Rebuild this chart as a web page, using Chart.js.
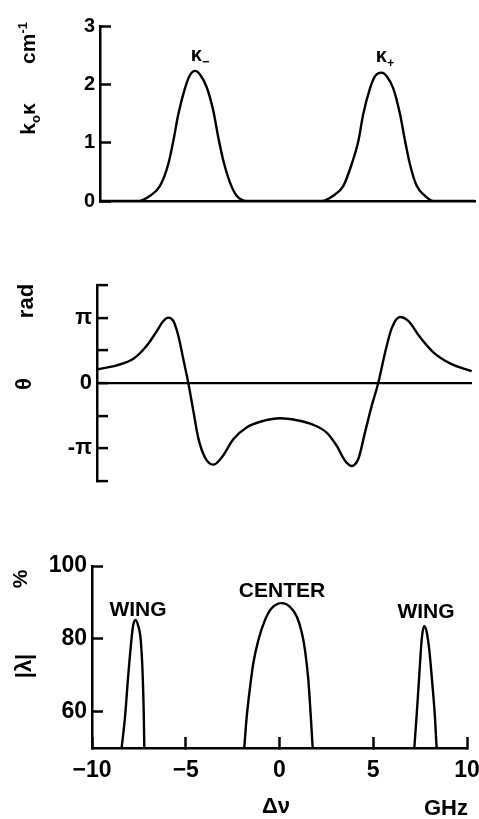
<!DOCTYPE html>
<html><head><meta charset="utf-8">
<script src="https://cdn.jsdelivr.net/npm/chart.js@4"></script>
<style>
html,body{margin:0;padding:0;background:#fff;}
#wrap{position:relative;width:479px;height:819px;overflow:hidden;background:#fff;font-family:'Liberation Sans',Arial,sans-serif;font-weight:bold;color:#000;}
canvas{position:absolute;left:0;}
.lb{position:absolute;white-space:nowrap;transform:translate(-50%,-50%);line-height:1;}
.rot{transform:translate(-50%,-50%) rotate(-90deg);}
sub,sup{font-size:62%;line-height:0;}
</style></head>
<body><div id="wrap">
<canvas id="c1" width="479" height="230" style="top:0px"></canvas>
<canvas id="c2" width="479" height="250" style="top:250px"></canvas>
<canvas id="c3" width="479" height="289" style="top:530px"></canvas>

<div class="lb rot" style="left:27px;top:43px;font-size:21px">cm<sup>-1</sup></div>
<div class="lb rot" style="left:27px;top:119px;font-size:21px">k<sub>o</sub>κ</div>
<div class="lb" style="left:200px;top:54px;font-size:20px">κ<sub>−</sub></div>
<div class="lb" style="left:385px;top:55px;font-size:20px">κ<sub>+</sub></div>

<div class="lb rot" style="left:26px;top:301px;font-size:22px">rad</div>
<div class="lb rot" style="left:24px;top:384px;font-size:22px">θ</div>

<div class="lb rot" style="left:19px;top:579px;font-size:21px">%</div>
<div class="lb rot" style="left:24px;top:666px;font-size:22px">|λ|</div>
<div class="lb" style="left:138px;top:608px;font-size:21px">WING</div>
<div class="lb" style="left:282px;top:589px;font-size:21px">CENTER</div>
<div class="lb" style="left:426px;top:610px;font-size:21px">WING</div>
<div class="lb" style="left:276px;top:806px;font-size:22px">Δν</div>
<div class="lb" style="left:446px;top:808px;font-size:22px">GHz</div>
</div>
<script>
// ---- data ----
const freqRange = [-10, 10];               // GHz
const freqTicks = [-10, -5, 0, 5, 10];
const freqTickLabels = ['−10', '−5', '0', '5', '10'];

// Panel 1: k0*kappa (cm^-1)
const kappaX = [-10, -7.95, -7.33, -6.8, -6.36, -6.09, -5.82, -5.47, -5.2, -4.93, -4.67, -4.31, -3.96, -3.69, -3.42, -3.07, -2.71, -2.18,
                1.82, 2.44, 2.98, 3.42, 3.78, 4.04, 4.4, 4.67, 5.02, 5.29, 5.64, 6.0, 6.27, 6.53, 6.89, 7.33, 7.78, 10];
const kappaY = [0, 0, 0.09, 0.26, 0.63, 1.03, 1.49, 1.93, 2.16, 2.23, 2.17, 1.95, 1.55, 1.09, 0.69, 0.32, 0.09, 0,
                0, 0.09, 0.26, 0.63, 1.03, 1.49, 1.93, 2.14, 2.2, 2.14, 1.93, 1.49, 1.03, 0.63, 0.26, 0.09, 0, 0];
const kappaTicks = [0, 1, 2, 3];
const kappaTickLabels = ['0', '1', '2', '3'];

// Panel 2: theta (in units of pi rad)
const thetaX = [-9.98, -8.95, -8.06, -7.35, -6.82, -6.46, -6.2, -5.93, -5.66, -5.4, -5.13, -4.86, -4.6, -4.24, -3.8, -3.35, -2.73, -2.02,
                -1.13, -0.24, 0.65, 1.54, 2.25, 2.78, 3.23, 3.58, 3.94, 4.29, 4.65, 5.0, 5.36, 5.72, 6.16, 6.6, 7.23, 7.94, 8.83, 9.98];
const thetaY = [0.21, 0.27, 0.37, 0.57, 0.79, 0.95, 1.0, 0.95, 0.72, 0.37, 0.0, -0.43, -0.84, -1.14, -1.25, -1.14, -0.86, -0.68,
                -0.58, -0.54, -0.57, -0.64, -0.76, -0.96, -1.19, -1.27, -1.16, -0.76, -0.35, 0.0, 0.46, 0.84, 1.01, 0.95, 0.7, 0.47, 0.3, 0.18];
const thetaTicks = [-1.5, -1, -0.5, 0, 0.5, 1, 1.5];
const thetaTickLabels = ['', '-π', '', '0', '', 'π', ''];

// Panel 3: |lambda| (%)
const wingLeftX  = [-8.42, -8.24, -8.06, -7.88, -7.8, -7.69, -7.55, -7.4, -7.3, -7.24, -7.21];
const wingLeftY  = [50, 58.5, 70.4, 80.6, 83.8, 85.2, 83.8, 79.6, 70.4, 59.4, 50];
const centerX    = [-1.88, -1.75, -1.57, -1.4, -1.13, -0.77, -0.42, 0.12, 0.56, 0.92, 1.18, 1.36, 1.54, 1.66, 1.77];
const centerY    = [50, 58.5, 66.7, 73.2, 79.6, 85.2, 88.4, 89.8, 88.8, 86.1, 81.9, 76.9, 68.6, 59.4, 50];
const wingRightX = [7.19, 7.32, 7.46, 7.58, 7.71, 7.85, 7.99, 8.15, 8.29, 8.38];
const wingRightY = [50, 59.4, 70.4, 79.6, 83.5, 81.9, 76.9, 67.7, 58.5, 50];
const lambdaRange = [50, 100];
const lambdaTicks = [60, 80, 100];
const lambdaTickLabels = ['60', '80', '100'];

// ---- helpers ----
const FONT = "'Liberation Sans', Arial, sans-serif";
const pts = (xs, ys) => xs.map((x, i) => ({x, y: ys[i]}));
const line = (xs, ys) => ({
  data: pts(xs, ys), showLine: true, borderColor: '#000', borderWidth: 2.4,
  pointRadius: 0, fill: false, cubicInterpolationMode: 'monotone'
});

function yAxis(range, ticks, labels, width, size, extraGrid) {
  return {
    type: 'linear', position: 'left', min: range[0], max: range[1],
    afterBuildTicks: s => { s.ticks = ticks.map(v => ({value: v})); },
    afterFit: s => { s.width = width; s.paddingTop = 0; s.paddingBottom = 0; },
    border: {display: true, color: '#000', width: 2.5},
    grid: Object.assign({drawOnChartArea: false, drawTicks: true, tickLength: -11, tickWidth: 2.5, tickColor: '#000'}, extraGrid || {}),
    ticks: {padding: 16, color: '#000', font: {family: FONT, size: size, weight: 'bold'},
            callback: (v, i) => labels[i]}
  };
}

function baseOpts(padding, scales) {
  return {
    responsive: false, animation: false, devicePixelRatio: 1, events: [],
    layout: {padding: padding, autoPadding: false},
    plugins: {legend: {display: false}, tooltip: {enabled: false}},
    scales: scales
  };
}

// Panel 1
new Chart(document.getElementById('c1'), {
  type: 'scatter',
  data: {datasets: [line(kappaX, kappaY)]},
  options: baseOpts({left: 0, right: 4, top: 26, bottom: 29}, {
    x: {type: 'linear', min: freqRange[0], max: freqRange[1],
        afterFit: s => { s.height = 0; s.paddingLeft = 0; s.paddingRight = 0; },
        border: {display: true, color: '#000', width: 2.5},
        grid: {drawOnChartArea: false, drawTicks: false},
        ticks: {display: false}},
    y: yAxis([0, 3], kappaTicks, kappaTickLabels, 100, 20)
  })
});

// Panel 2
new Chart(document.getElementById('c2'), {
  type: 'scatter',
  data: {datasets: [line(thetaX, thetaY)]},
  options: baseOpts({left: 0, right: 7, top: 35, bottom: 19}, {
    x: {type: 'linear', display: false, min: freqRange[0], max: freqRange[1]},
    y: yAxis([-1.5, 1.5], thetaTicks, thetaTickLabels, 97, 22, {
      drawOnChartArea: true,
      color: c => (c.tick && c.tick.value === 0) ? '#000' : 'rgba(0,0,0,0)',
      lineWidth: 2.2
    })
  })
});

// Panel 3
new Chart(document.getElementById('c3'), {
  type: 'scatter',
  data: {datasets: [line(wingLeftX, wingLeftY), line(centerX, centerY), line(wingRightX, wingRightY)]},
  options: baseOpts({left: 0, right: 12, top: 36, bottom: 0}, {
    x: {type: 'linear', position: 'bottom', min: freqRange[0], max: freqRange[1],
        afterBuildTicks: s => { s.ticks = freqTicks.map(v => ({value: v})); },
        afterFit: s => { s.height = 71; s.paddingLeft = 0; s.paddingRight = 0; },
        border: {display: true, color: '#000', width: 2.5},
        grid: {drawOnChartArea: false, drawTicks: true, tickLength: -11, tickWidth: 2.5, tickColor: '#000'},
        ticks: {padding: 20, maxRotation: 0, color: '#000', font: {family: FONT, size: 23, weight: 'bold'},
                callback: (v, i) => freqTickLabels[i]}},
    y: yAxis(lambdaRange, lambdaTicks, lambdaTickLabels, 92, 23)
  })
});
</script>
</body></html>
